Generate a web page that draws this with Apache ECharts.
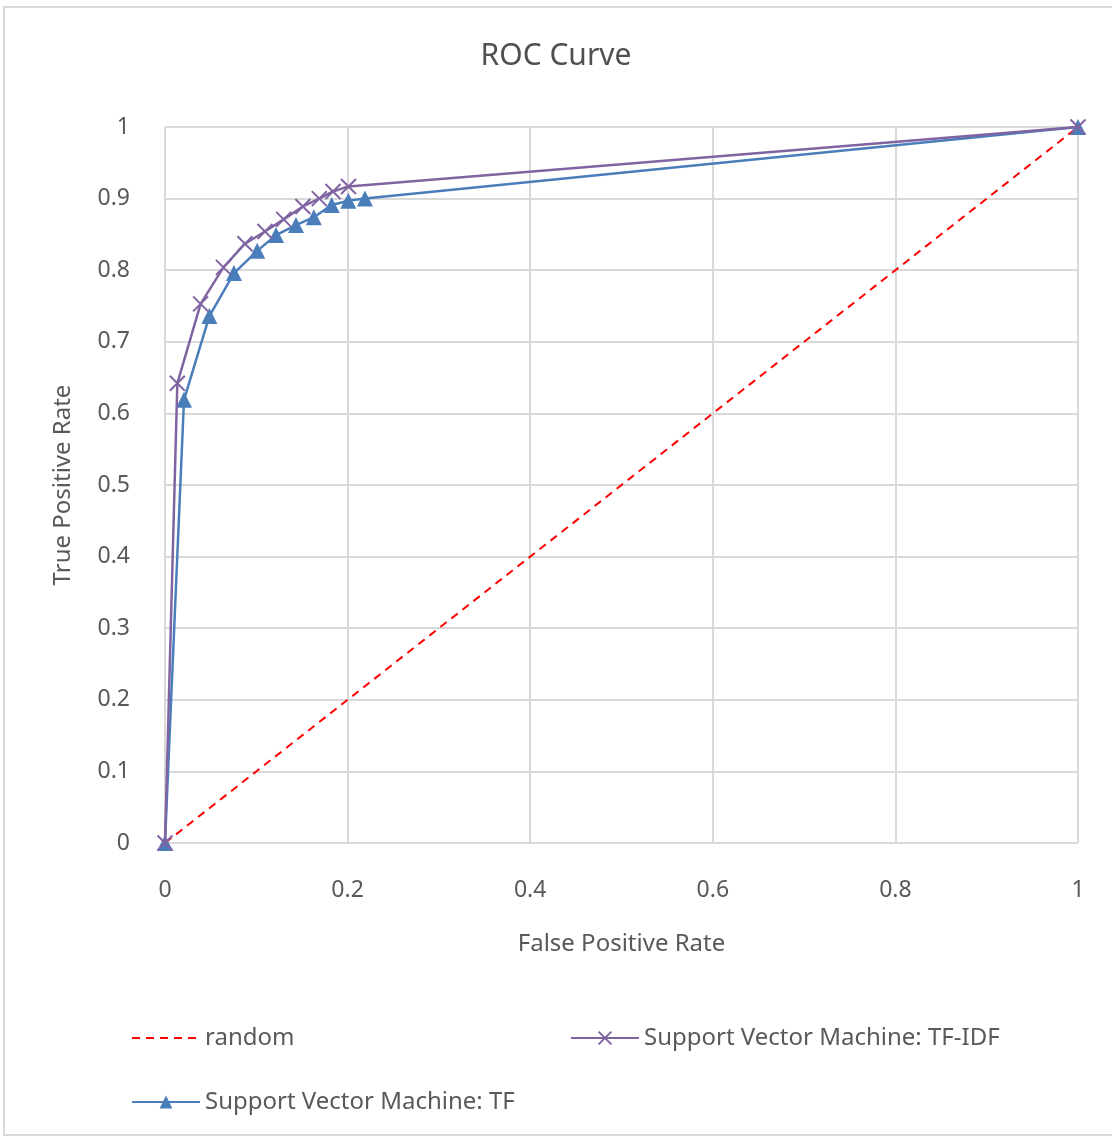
<!DOCTYPE html>
<html><head><meta charset="utf-8">
<script src="https://cdn.jsdelivr.net/npm/echarts@6/dist/echarts.min.js"></script>
<style>html,body{margin:0;padding:0;background:#fff}#c{width:1112px;height:1139px}</style>
</head><body><div id="c"></div>
<script>
const randomFPR = [0, 1];
const randomTPR = [0, 1];
const tfidfFPR = [0, 0.0135, 0.039, 0.064, 0.0876, 0.1095, 0.130, 0.151, 0.169, 0.184, 0.201, 1];
const tfidfTPR = [0, 0.642, 0.753, 0.804, 0.837, 0.854, 0.871, 0.889, 0.900, 0.910, 0.917, 1];
const tfFPR = [0, 0.0208, 0.0486, 0.0756, 0.101, 0.1216, 0.1435, 0.163, 0.1826, 0.2008, 0.219, 1];
const tfTPR = [0, 0.619, 0.736, 0.796, 0.827, 0.849, 0.863, 0.874, 0.891, 0.897, 0.900, 1];
const seriesNames = ['random', 'Support Vector Machine: TF-IDF', 'Support Vector Machine: TF'];

const pair = (xs, ys) => xs.map((x, i) => [x, ys[i]]);
const FONT = 'Noto Sans';
const TXT = '#595959';
const xPath = 'path://M0,0L10,10M10,0L0,10';

const chart = echarts.init(document.getElementById('c'), null, {renderer: 'canvas'});
chart.setOption({
  animation: false,
  backgroundColor: '#fff',
  textStyle: {fontFamily: FONT, color: TXT},
  title: {text: 'ROC Curve', left: 'center', top: 36,
    textStyle: {fontFamily: FONT, fontSize: 30, fontWeight: 'normal', color: '#505050'}},
  graphic: [{type: 'rect', shape: {x: 4, y: 7, width: 1130, height: 1128}, style: {fill: 'none', stroke: '#d9d9d9', lineWidth: 2}, silent: true}],
  grid: {left: 165, right: 34, top: 127, bottom: 296},
  xAxis: {type: 'value', min: 0, max: 1, interval: 0.2,
    name: 'False Positive Rate', nameLocation: 'middle', nameGap: 89,
    nameTextStyle: {fontFamily: FONT, fontSize: 24, color: TXT},
    axisLine: {show: false}, axisTick: {show: false},
    axisLabel: {fontFamily: FONT, fontSize: 23, color: TXT, margin: 36, formatter: v => String(+v.toFixed(1))},
    splitLine: {show: true, lineStyle: {color: '#d9d9d9', width: 2}}},
  yAxis: {type: 'value', min: 0, max: 1, interval: 0.1,
    name: 'True Positive Rate', nameLocation: 'middle', nameGap: 90,
    nameTextStyle: {fontFamily: FONT, fontSize: 24, color: TXT},
    axisLine: {show: false}, axisTick: {show: false},
    axisLabel: {fontFamily: FONT, fontSize: 23, color: TXT, margin: 35, formatter: v => String(+v.toFixed(1))},
    splitLine: {show: true, lineStyle: {color: '#d9d9d9', width: 2}}},
  legend: [
    {data: [seriesNames[0]], left: 126, top: 1021, itemWidth: 68, itemHeight: 14,
      itemStyle: {opacity: 0},
      textStyle: {fontFamily: FONT, fontSize: 24, color: TXT}},
    {data: [seriesNames[1]], left: 565, top: 1021, itemWidth: 68, itemHeight: 16,
      textStyle: {fontFamily: FONT, fontSize: 24, color: TXT}},
    {data: [seriesNames[2]], left: 126, top: 1085, itemWidth: 68, itemHeight: 16,
      textStyle: {fontFamily: FONT, fontSize: 24, color: TXT}}
  ],
  series: [
    {name: seriesNames[0], type: 'line', data: pair(randomFPR, randomTPR), showSymbol: false, symbol: 'none',
      lineStyle: {color: '#ff0000', width: 2, type: [8, 6]}, itemStyle: {color: '#ff0000'}, z: 1},
    {name: seriesNames[1], type: 'line', data: pair(tfidfFPR, tfidfTPR), symbol: xPath, symbolSize: 15,
      lineStyle: {color: '#8064a2', width: 2.5},
      itemStyle: {color: 'rgba(0,0,0,0)', borderColor: '#8064a2', borderWidth: 2}, z: 3},
    {name: seriesNames[2], type: 'line', data: pair(tfFPR, tfTPR), symbol: 'triangle', symbolSize: 16,
      lineStyle: {color: '#4a7ebb', width: 2.5},
      itemStyle: {color: '#4a7ebb'}, z: 2}
  ]
});
</script></body></html>
